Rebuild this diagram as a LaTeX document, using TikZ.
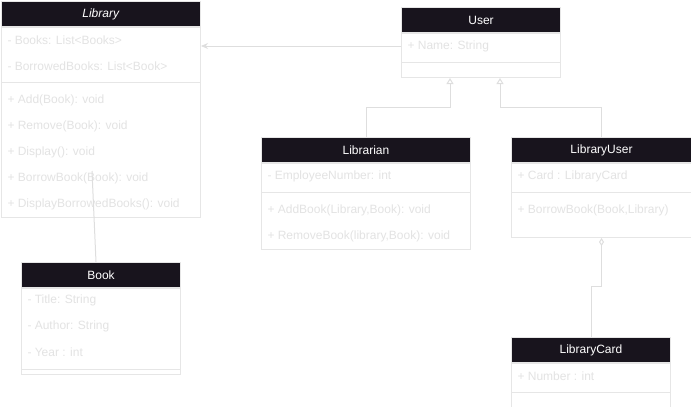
\documentclass[tikz,border=0pt]{standalone}
\usepackage{fontspec}
\setmainfont{Liberation Sans}
\usetikzlibrary{calc}
\usetikzlibrary{arrows.meta}

\definecolor{headfill}{HTML}{18141D}
\definecolor{boxline}{HTML}{E6E6E6}
\definecolor{membertext}{HTML}{E3E3E3}
\definecolor{linkcol}{HTML}{DEDEDE}

\tikzset{
	classhead/.style	= {draw=boxline, fill=headfill, text=white, anchor=north west, inner sep=0pt, minimum height=25pt, font=\fontsize{12}{14}\selectfont},
	classbody/.style	= {draw=boxline, fill=white, anchor=north west, inner sep=0pt},
	member/.style		= {anchor=west, text=membertext, inner sep=0pt, font=\fontsize{12}{14}\selectfont},
	divider/.style		= {draw=boxline, line width=1pt},
	link/.style			= {draw=linkcol, line width=1pt},
}

\begin{document}
\begin{tikzpicture}[x=1pt, y=-1pt, line width=1pt]
	\useasboundingbox (0,0) rectangle (691,407);

	% Library
	\node[classhead, minimum width=199pt]	(libHead)	at (1,1)	{\textit{Library}};
	\node[classbody, minimum width=199pt, minimum height=190pt]	(libBody)	at (libHead.south west)	{};
	\draw[divider] (libBody.west |- 0,82) -- (libBody.east |- 0,82);
	\node[member]	(libBooks)		at (7,40)	{- Books: List<Books>};
	\node[member]	(libBorrowed)	at (7,66)	{- BorrowedBooks: List<Book>};
	\node[member]	(libAdd)		at (7,100)	{+ Add(Book): void};
	\node[member]	(libRemove)		at (7,126)	{+ Remove(Book): void};
	\node[member]	(libDisplay)	at (7,152)	{+ Display(): void};
	\node[member]	(libBorrow)		at (7,178)	{+ BorrowBook(Book): void};
	\node[member]	(libDispBorr)	at (7,204)	{+ DisplayBorrowedBooks(): void};

	% User
	\node[classhead, minimum width=159pt]	(userHead)	at (401,7)	{User};
	\node[classbody, minimum width=159pt, minimum height=44pt]	(userBody)	at (userHead.south west)	{};
	\draw[divider] (userBody.west |- 0,62) -- (userBody.east |- 0,62);
	\node[member]	(userName)	at (407,46)	{+ Name: String};

	% Librarian
	\node[classhead, minimum width=209pt]	(libnHead)	at (261,137)	{Librarian};
	\node[classbody, minimum width=209pt, minimum height=86pt]	(libnBody)	at (libnHead.south west)	{};
	\draw[divider] (libnBody.west |- 0,192) -- (libnBody.east |- 0,192);
	\node[member]	(libnNumber)	at (267,176)	{- EmployeeNumber: int};
	\node[member]	(libnAdd)		at (267,210)	{+ AddBook(Library,Book): void};
	\node[member]	(libnRemove)	at (267,236)	{+ RemoveBook(library,Book): void};

	% LibraryUser
	\node[classhead, minimum width=180pt]	(lubHead)	at (511,137)	{LibraryUser};
	\node[classbody, minimum width=180pt, minimum height=74pt]	(lubBody)	at (lubHead.south west)	{};
	\draw[divider] (lubBody.west |- 0,192) -- (lubBody.east |- 0,192);
	\node[member]	(lubCard)	at (517,176)	{+ Card : LibraryCard};
	\node[member]	(lubBorrow)	at (517,210)	{+ BorrowBook(Book,Library)};

	% Book
	\node[classhead, minimum width=159pt]	(bookHead)	at (21,262)	{Book};
	\node[classbody, minimum width=159pt, minimum height=86pt]	(bookBody)	at (bookHead.south west)	{};
	\draw[divider] (bookBody.west |- 0,369) -- (bookBody.east |- 0,369);
	\node[member]	(bookTitle)		at (27,300)	{- Title: String};
	\node[member]	(bookAuthor)	at (27,326)	{- Author: String};
	\node[member]	(bookYear)		at (27,352)	{- Year : int};

	% LibraryCard
	\node[classhead, minimum width=159pt]	(lcHead)	at (511,337)	{LibraryCard};
	\node[classbody, minimum width=159pt, minimum height=44pt]	(lcBody)	at (lcHead.south west)	{};
	\draw[divider] (lcBody.west |- 0,392) -- (lcBody.east |- 0,392);
	\node[member]	(lcNumber)	at (517,376)	{+ Number : int};

	% connectors
	\coordinate (genA)		at (userBody.south -| 450,0);
	\coordinate (genB)		at (userBody.south -| 500,0);
	\coordinate (libLink)	at (92,171);
	\coordinate (bookLink)	at (bookHead.north -| 96,0);

	\draw[link, -{Stealth[length=7pt, width=6pt]}] (userBody.west |- userName) -- (libBody.east |- userName);
	\draw[link, -{Triangle[open, length=6pt, width=7pt]}] (libnHead.north) -- (libnHead.north |- 0,107) -| (genA);
	\draw[link, -{Triangle[open, length=6pt, width=7pt]}] (lubHead.north) -- (lubHead.north |- 0,107) -| (genB);
	\draw[link, {Diamond[open, length=8pt, width=5pt]}-] (lubBody.south) -- (lubBody.south |- 0,286) -| (lcHead.north);
	\draw[link] (libLink) -- (bookLink);
\end{tikzpicture}
\end{document}
